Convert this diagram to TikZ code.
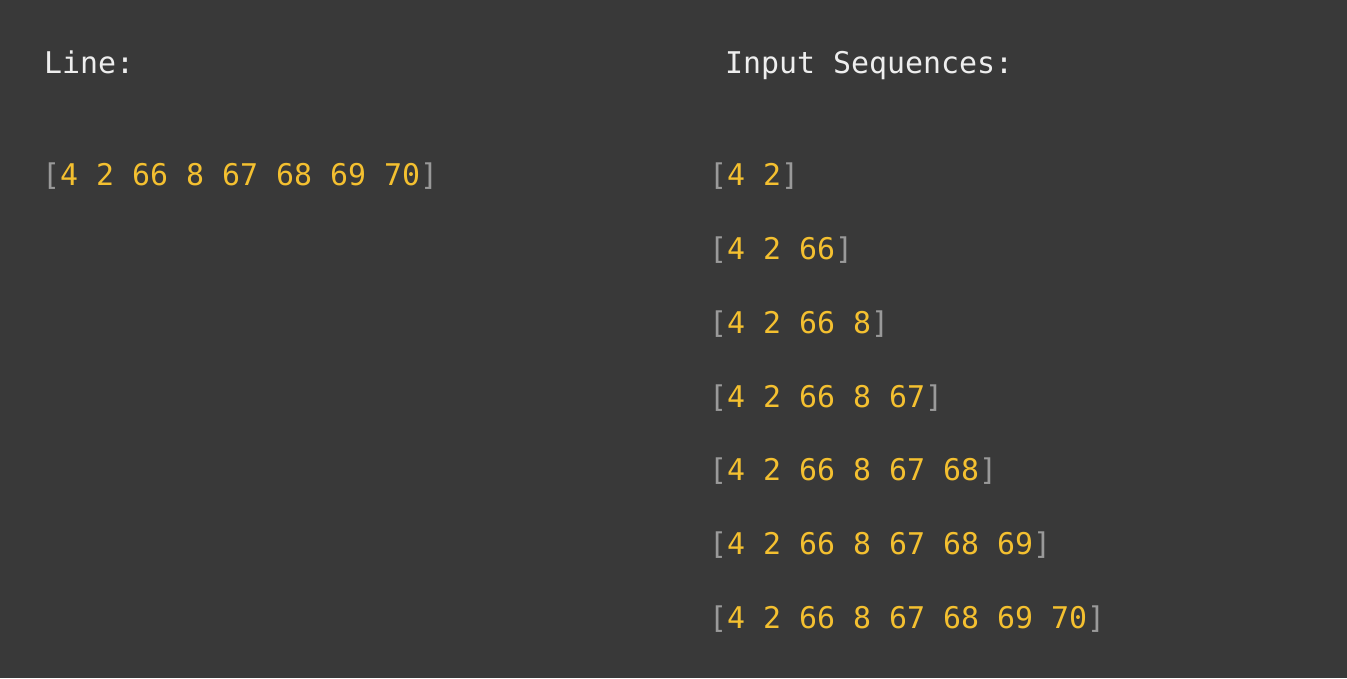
\documentclass[tikz,border=0pt]{standalone}
\usepackage{fontspec}
\newfontfamily\codefont{DejaVu Sans Mono}
\definecolor{bg_grey}{HTML}{393939}
\definecolor{title_white}{HTML}{EEEEEE}
\definecolor{num_yellow}{HTML}{F4C030}
\definecolor{bracket_grey}{HTML}{9A9A9A}
\newcommand{\seqtext}[1]{\textcolor{bracket_grey}{[}\textcolor{num_yellow}{#1}\textcolor{bracket_grey}{]}}
\begin{document}
\begin{tikzpicture}[x=1pt, y=1pt,
               title_style/.style={anchor=base west, inner sep=0pt, text=title_white, font=\codefont\fontsize{29.9}{35}\selectfont},
               seq_style/.style={anchor=base west, inner sep=0pt, font=\codefont\fontsize{29.9}{35}\selectfont}]
                \fill[bg_grey] (0,0) rectangle (1347,678);
                \useasboundingbox (0,0) rectangle (1347,678);

                \node[title_style] (line_title) at (44,604) {Line:};
                \node[title_style] (input_title) at (725,604) {Input Sequences:};

                \node[seq_style] (line_seq) at (42,492) {\seqtext{4 2 66 8 67 68 69 70}};

                \node[seq_style] (s1) at (709,492) {\seqtext{4 2}};
                \node[seq_style] (s2) at (709,418.3) {\seqtext{4 2 66}};
                \node[seq_style] (s3) at (709,344.6) {\seqtext{4 2 66 8}};
                \node[seq_style] (s4) at (709,270.9) {\seqtext{4 2 66 8 67}};
                \node[seq_style] (s5) at (709,197.2) {\seqtext{4 2 66 8 67 68}};
                \node[seq_style] (s6) at (709,123.5) {\seqtext{4 2 66 8 67 68 69}};
                \node[seq_style] (s7) at (709,49.8) {\seqtext{4 2 66 8 67 68 69 70}};
            \end{tikzpicture}
\end{document}
